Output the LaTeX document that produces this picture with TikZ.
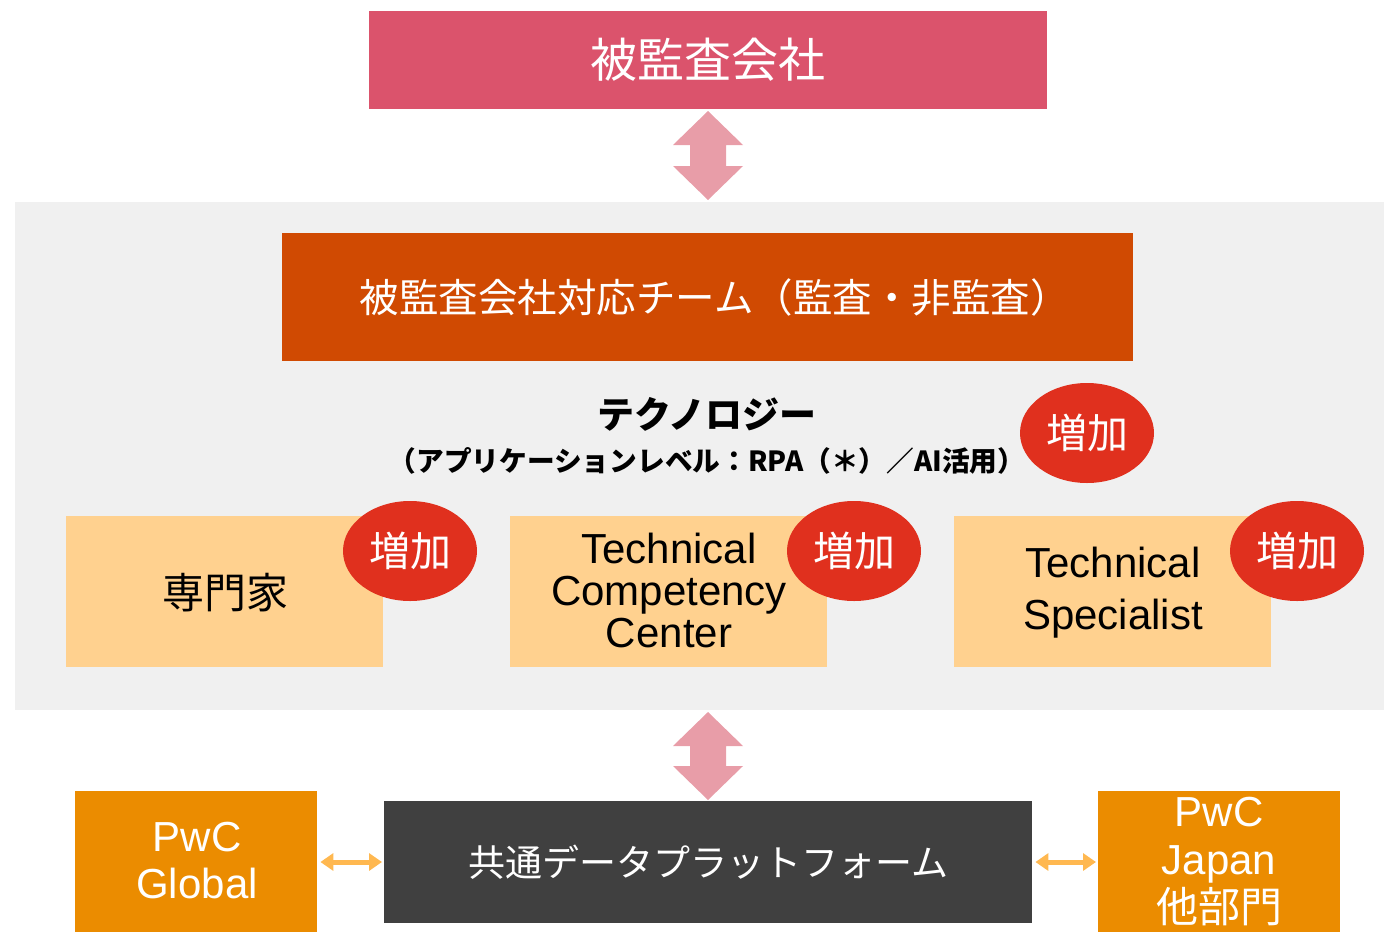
\documentclass[tikz,border=0pt]{standalone}
\usepackage{fontspec}
\setmainfont{Liberation Sans}
\newfontfamily\jp{Noto Sans CJK JP}
\usetikzlibrary{shapes.geometric,arrows.meta}
\definecolor{rose}{RGB}{219,83,108}
\definecolor{pinkarr}{RGB}{232,157,168}
\definecolor{panel}{RGB}{240,240,240}
\definecolor{pwcorange}{RGB}{208,74,2}
\definecolor{pwcred}{RGB}{224,48,30}
\definecolor{lightor}{RGB}{255,209,143}
\definecolor{tang}{RGB}{235,140,0}
\definecolor{darkg}{RGB}{64,64,64}
\definecolor{smallarr}{RGB}{255,184,80}
\tikzset{
  box/.style={draw=none,inner sep=0pt,anchor=north west},
  incr/.style={ellipse,fill=pwcred,minimum width=134pt,minimum height=100pt,inner sep=0pt,text=white,font=\jp\fontsize{41}{44}\selectfont},
  bigarr/.style={fill=pinkarr,draw=none},
  sarr/.style={draw=smallarr,line width=5pt,{Triangle[width=17pt,length=13pt]}-{Triangle[width=17pt,length=13pt]},shorten <=3pt,shorten >=2pt}
}
\newcommand{\dblarrow}[3]{% x, ytop, ybottom
  \fill[bigarr] (#1,#2) -- (#1-35,#2+34) -- (#1-18,#2+34) -- (#1-18,#3-34) -- (#1-35,#3-34) -- (#1,#3)
   -- (#1+35,#3-34) -- (#1+18,#3-34) -- (#1+18,#2+34) -- (#1+35,#2+34) -- cycle;}
\begin{document}
\begin{tikzpicture}[x=1pt,y=-1pt]
\useasboundingbox (0,0) rectangle (1384,932);
% top
\node[box,fill=rose,minimum width=678pt,minimum height=98pt] (top) at (369,11) {};
\node[text=white,font=\jp\fontsize{47}{50}\selectfont] (toptxt) at (top.center) {被監査会社};
\dblarrow{708}{111}{200}
% panel
\node[box,fill=panel,minimum width=1369pt,minimum height=508pt] (panel) at (15,202) {};
\node[box,fill=pwcorange,minimum width=851pt,minimum height=128pt] (team) at (282,233) {};
\node[text=white,font=\jp\fontsize{39.5}{42}\selectfont] (teamtxt) at ([xshift=7pt]team.center) {被監査会社対応チーム（監査・非監査）};
\node[font=\jp\bfseries\fontsize{37}{40}\selectfont] (tech) at (707,414) {テクノロジー};
\node[font=\jp\bfseries\fontsize{27.7}{30}\selectfont] (tech2) at (707,461) {（アプリケーションレベル：RPA（＊）／AI活用）};
\node[incr] (e0) at (1087,433) {増加};
% three boxes
\node[box,fill=lightor,minimum width=317pt,minimum height=151pt] (b1) at (66,516) {};
\node[box,fill=lightor,minimum width=317pt,minimum height=151pt] (b2) at (510,516) {};
\node[box,fill=lightor,minimum width=317pt,minimum height=151pt] (b3) at (954,516) {};
\node[font=\jp\fontsize{42}{45}\selectfont] (b1t) at (225,593) {専門家};
\node[align=center,font=\fontsize{42}{42}\selectfont] (b2t) at (669,590) {Technical\\Competency\\Center};
\node[align=center,font=\fontsize{42}{52}\selectfont] (b3t) at (1113,593) {Technical\\Specialist};
\node[incr] (e1) at (410,551) {増加};
\node[incr] (e2) at (854,551) {増加};
\node[incr] (e3) at (1297,551) {増加};
\dblarrow{708}{712}{800}
% bottom
\node[box,fill=tang,minimum width=242pt,minimum height=141pt] (glob) at (75,791) {};
\node[align=center,text=white,font=\fontsize{42}{47}\selectfont] (globt) at (197,861) {PwC\\Global};
\node[box,fill=darkg,minimum width=648pt,minimum height=122pt] (plat) at (384,801) {};
\node[text=white,font=\jp\fontsize{37}{40}\selectfont] (platt) at (plat.center) {共通データプラットフォーム};
\node[box,fill=tang,minimum width=242pt,minimum height=141pt] (jap) at (1098,791) {};
\node[align=center,text=white,font=\fontsize{42}{48}\selectfont] (japt) at (1219,862) {PwC\\Japan\\{\jp 他部門}};
\draw[sarr] (glob.east |- 0,862) -- (plat.west |- 0,862);
\draw[sarr] (plat.east |- 0,862) -- (jap.west |- 0,862);
\end{tikzpicture}
\end{document}
